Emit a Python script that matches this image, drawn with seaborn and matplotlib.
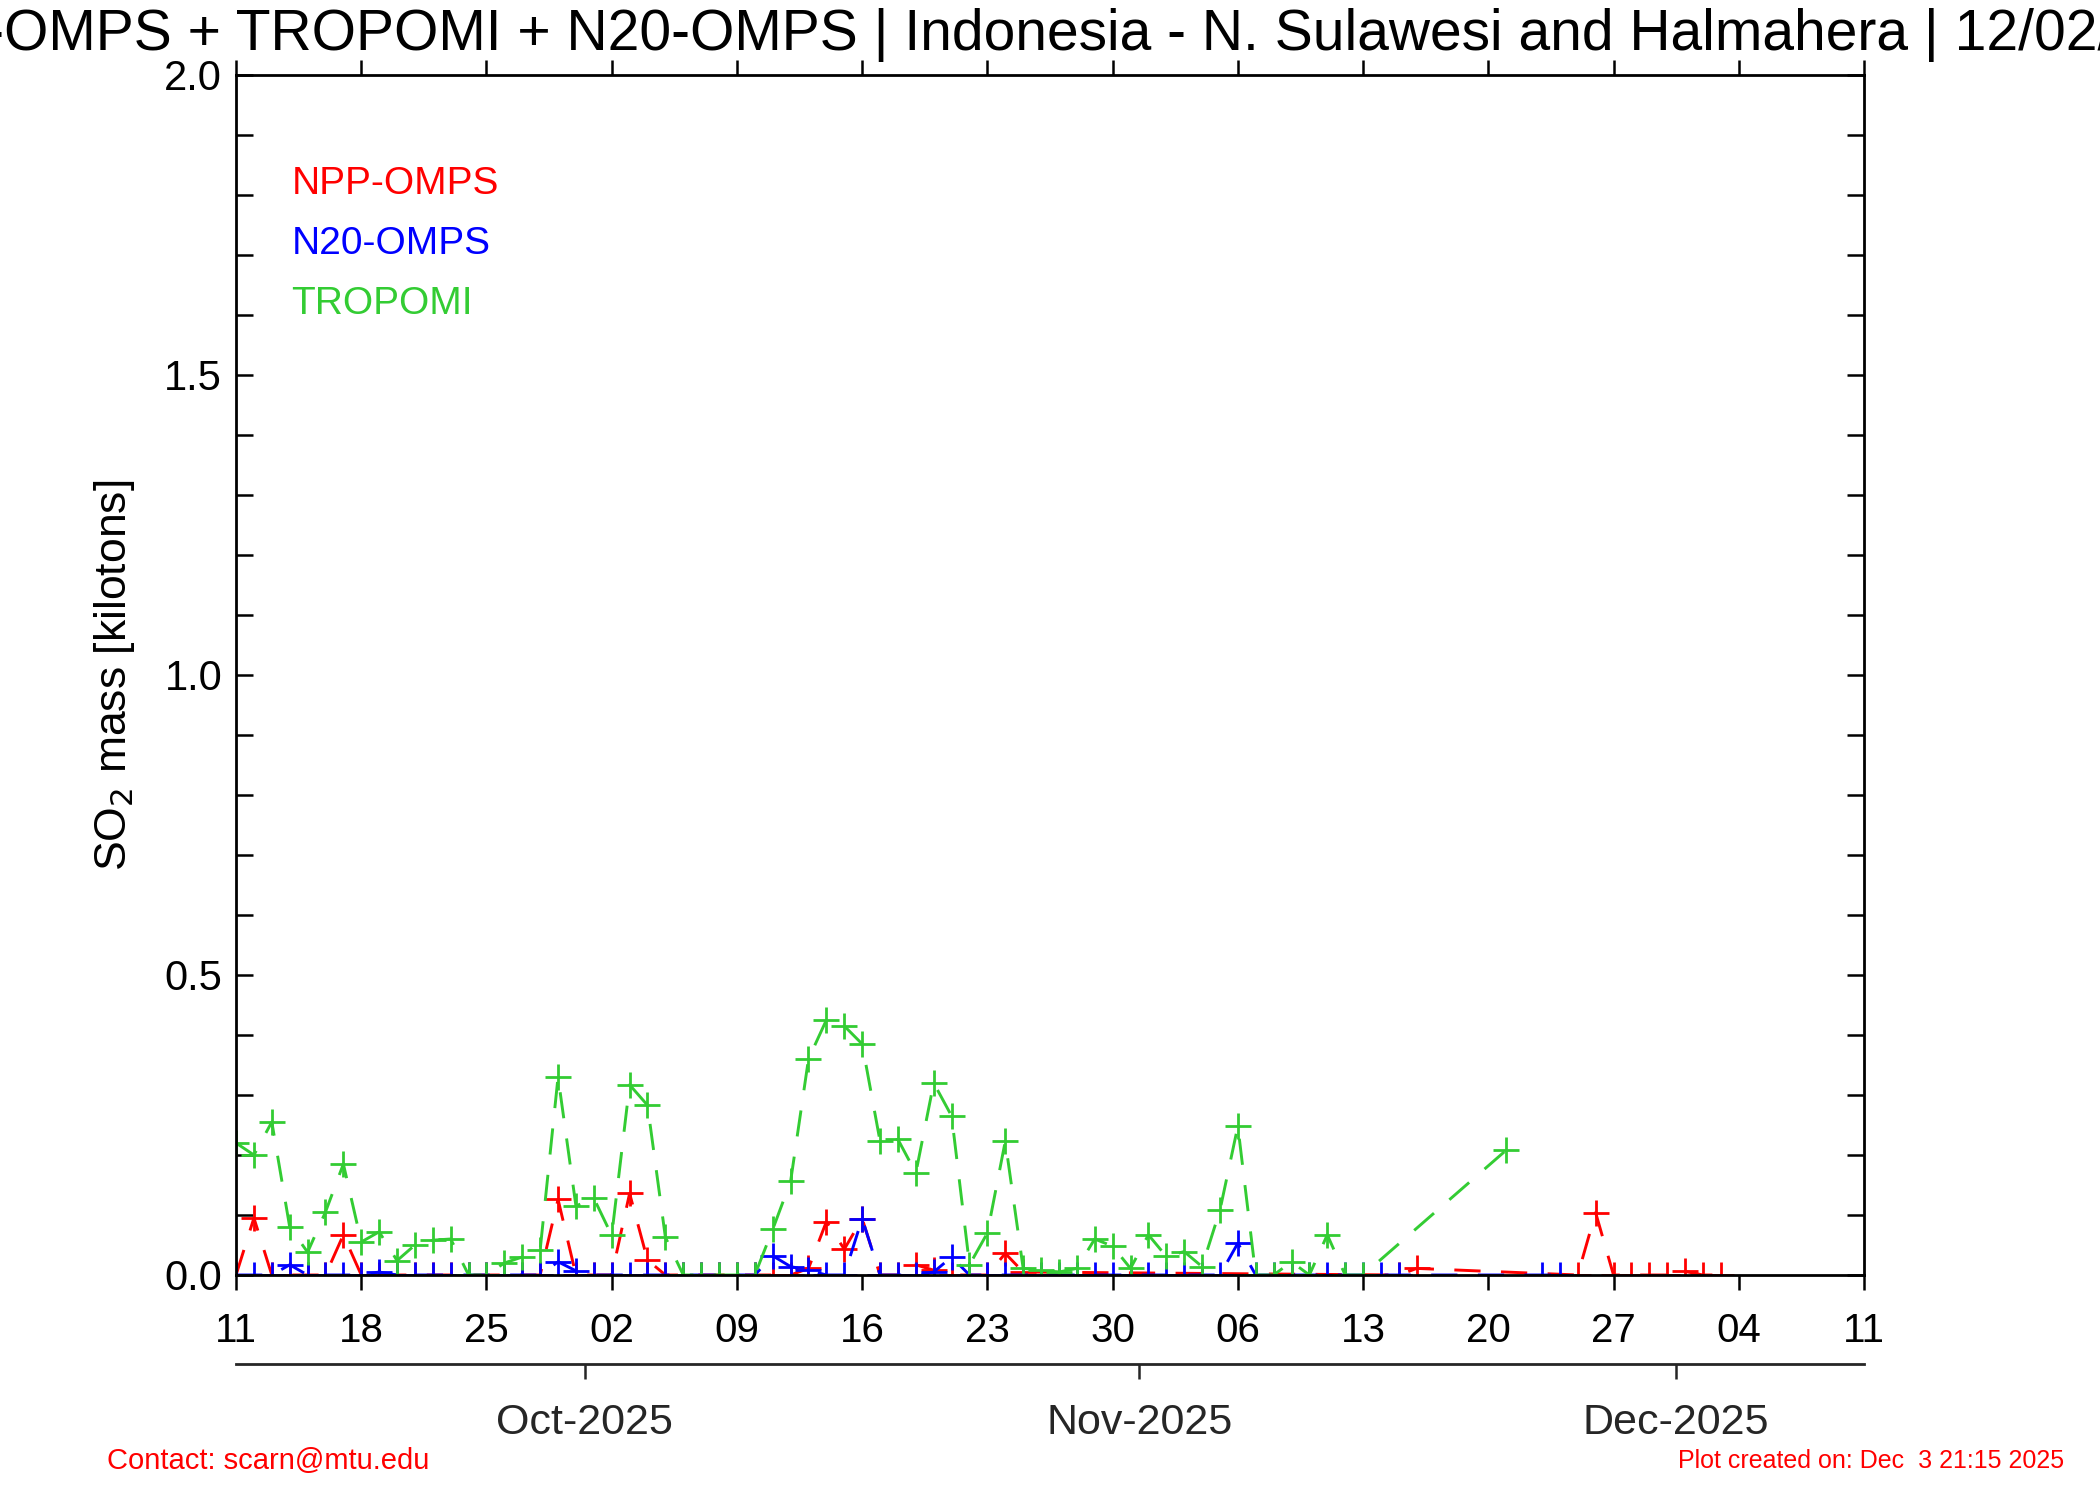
import numpy as np
import pandas as pd
import matplotlib
matplotlib.use("Agg")
import matplotlib.pyplot as plt
import matplotlib.dates as mdates
from matplotlib.ticker import MultipleLocator, FormatStrFormatter
import seaborn as sns

# days counted from START, SO2 mass in kilotons
START = "2025-09-11"

npp_days = [0, 1, 2, 3, 4, 5, 6, 7, 8, 9, 10, 11, 12, 13, 14, 15, 16, 17, 18, 19, 20, 21, 22,
            23, 24, 25, 26, 27, 28, 29, 30, 31, 32, 33, 34, 35, 36, 37, 38, 39, 40, 41, 42, 43,
            44, 65, 66, 75, 76, 77, 78, 79, 80, 81, 82, 83]
npp_mass = [0.0, 0.095, 0.0, 0.0, 0.0, 0.0, 0.067, 0.0, 0.0, 0.0, 0.0, 0.0, 0.0, 0.0, 0.0, 0.0,
            0.0, 0.0, 0.126, 0.0, 0.0, 0.0, 0.136, 0.025, 0.0, 0.0, 0.0, 0.0, 0.0, 0.0, 0.0, 0.0,
            0.011, 0.089, 0.043, 0.094, 0.0, 0.0, 0.017, 0.008, 0.0, 0.0, 0.0, 0.036, 0.005,
            0.0, 0.011, 0.0, 0.104, 0.0, 0.0, 0.0, 0.0, 0.006, 0.0, 0.0]

n20_days = list(range(0, 66)) + [73, 74]
n20_mass = [0.0, 0.0, 0.0, 0.017, 0.0, 0.0, 0.0, 0.0, 0.005, 0.0, 0.0, 0.0, 0.0, 0.0, 0.0, 0.0,
            0.0, 0.0, 0.022, 0.007, 0.0, 0.0, 0.0, 0.0, 0.0, 0.0, 0.0, 0.0, 0.0, 0.0, 0.032, 0.014,
            0.008, 0.0, 0.0, 0.094, 0.0, 0.0, 0.0, 0.005, 0.03, 0.0, 0.0, 0.0, 0.0, 0.0, 0.0, 0.0,
            0.0, 0.0, 0.0, 0.0, 0.0, 0.0, 0.0, 0.0, 0.053, 0.0, 0.0, 0.0, 0.0, 0.0, 0.0, 0.0, 0.0,
            0.0, 0.0, 0.0]

tropomi_days = list(range(0, 64)) + [71]
tropomi_mass = [0.22, 0.20, 0.255, 0.08, 0.038, 0.105, 0.185, 0.055, 0.072, 0.024, 0.05, 0.058,
                0.06, 0.0, 0.0, 0.02, 0.03, 0.042, 0.33, 0.115, 0.128, 0.066, 0.317, 0.283, 0.063,
                0.0, 0.0, 0.0, 0.0, 0.0, 0.076, 0.156, 0.36, 0.425, 0.415, 0.385, 0.223, 0.226,
                0.17, 0.32, 0.265, 0.017, 0.07, 0.223, 0.011, 0.008, 0.005, 0.011, 0.06, 0.048,
                0.011, 0.067, 0.031, 0.039, 0.014, 0.108, 0.248, 0.0, 0.0, 0.022, 0.0, 0.067, 0.0,
                0.0, 0.208]

sensors = ["NPP-OMPS", "N20-OMPS", "TROPOMI"]
colors = {"NPP-OMPS": "#ff0000", "N20-OMPS": "#0000ff", "TROPOMI": "#33cc33"}
draw_order = ["NPP-OMPS", "N20-OMPS", "TROPOMI"]

week_ticks = pd.date_range("2025-09-11", "2025-12-11", freq="7D")
month_starts = ["2025-10-01", "2025-11-01", "2025-12-01"]
month_labels = ["Oct-2025", "Nov-2025", "Dec-2025"]

title = "NPP-OMPS + TROPOMI + N20-OMPS | Indonesia - N. Sulawesi and Halmahera | 12/02/2025"
contact = "Contact: scarn@mtu.edu"
created = "Plot created on: Dec  3 21:15 2025"


def make_frame():
    start = pd.Timestamp(START)
    parts = []
    for name, days, mass in [("NPP-OMPS", npp_days, npp_mass),
                             ("N20-OMPS", n20_days, n20_mass),
                             ("TROPOMI", tropomi_days, tropomi_mass)]:
        parts.append(pd.DataFrame({
            "date": start + pd.to_timedelta(days, unit="D"),
            "mass": mass,
            "sensor": name,
        }))
    return pd.concat(parts, ignore_index=True)


sns.set_theme(style="ticks")
plt.rcParams["font.family"] = ["Liberation Sans", "DejaVu Sans"]
plt.rcParams["axes.linewidth"] = 2.0

df = make_frame()

fig = plt.figure(figsize=(21, 15), dpi=100)
ax = fig.add_axes([0.1124, 0.15, 0.7752, 0.8])

for name in draw_order:
    sub = df[df["sensor"] == name]
    sns.lineplot(data=sub, x="date", y="mass", ax=ax, color=colors[name], marker="+",
                 markersize=19, markeredgewidth=2.0, markeredgecolor=colors[name],
                 markerfacecolor=colors[name], linewidth=2.1, errorbar=None, legend=False)
    ax.lines[-1].set_dashes([9, 7])

ax.set_xlim(pd.Timestamp("2025-09-11"), pd.Timestamp("2025-12-11"))
ax.set_ylim(0, 2.0)
ax.set_xticks(week_ticks)
ax.xaxis.set_major_formatter(mdates.DateFormatter("%d"))
ax.yaxis.set_major_locator(MultipleLocator(0.5))
ax.yaxis.set_minor_locator(MultipleLocator(0.1))
ax.yaxis.set_major_formatter(FormatStrFormatter("%.1f"))

ax.tick_params(axis="y", which="both", direction="in", left=True, right=True,
               length=12, width=1.8, labelsize=30, pad=10, colors="black")
ax.tick_params(axis="x", which="major", direction="out", top=True, bottom=True,
               length=11, width=1.8, labelsize=29, pad=16, colors="black")
for s in ax.spines.values():
    s.set_visible(True)
    s.set_color("black")
    s.set_linewidth(2.0)

ax.set_xlabel("")
ax.set_ylabel("SO$_2$ mass [kilotons]", fontsize=32, color="black")
ax.yaxis.set_label_coords(-0.061, 0.5)

# month axis below the day axis
sec = ax.secondary_xaxis(-0.0742)
month_pos = [mdates.date2num(pd.Timestamp(m) - pd.Timedelta(hours=12)) for m in month_starts]
sec.set_xticks(month_pos)
sec.set_xticklabels(month_labels)
sec.tick_params(axis="x", direction="out", length=11, width=1.8, labelsize=31, pad=17)
sec.spines["bottom"].set_linewidth(2.0)

# sensor labels
for i, name in enumerate(sensors):
    ax.text(0.034, 0.909 - 0.05 * i, name, transform=ax.transAxes, color=colors[name],
            fontsize=28, va="center", ha="left")

fig.text(0.502, 0.977, title, ha="center", va="center", fontsize=41, color="black")
fig.text(0.051, 0.026, contact, ha="left", va="center", fontsize=21, color="#ff0000")
fig.text(0.983, 0.026, created, ha="right", va="center", fontsize=18, color="#ff0000")

fig.savefig("out.png", dpi=100, facecolor="white")
